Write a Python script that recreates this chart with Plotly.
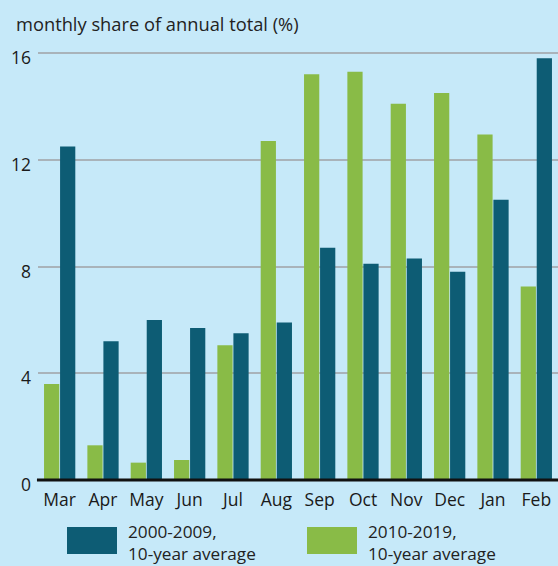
import plotly.graph_objects as go

months = ["Mar", "Apr", "May", "Jun", "Jul", "Aug", "Sep", "Oct", "Nov", "Dec", "Jan", "Feb"]
avg_2000_2009 = [12.5, 5.2, 6.0, 5.7, 5.5, 5.9, 8.7, 8.1, 8.3, 7.8, 10.5, 15.8]
avg_2010_2019 = [3.6, 1.3, 0.65, 0.75, 5.05, 12.7, 15.2, 15.3, 14.1, 14.5, 12.95, 7.25]
y_ticks = [0, 4, 8, 12, 16]
legend_names = ["2000-2009,<br>10-year average", "2010-2019,<br>10-year average"]

BG = "#c6e9f9"
TEAL = "#0d5c74"
GREEN = "#89bb47"
FONT = "Open Sans"

fig = go.Figure()
fig.add_trace(go.Bar(x=months, y=avg_2010_2019, marker=dict(color=GREEN, line=dict(width=0)),
                     name=legend_names[1], showlegend=False))
fig.add_trace(go.Bar(x=months, y=avg_2000_2009, marker=dict(color=TEAL, line=dict(width=0)),
                     name=legend_names[0], showlegend=False))

fig.update_layout(
    width=558, height=566,
    paper_bgcolor=BG, plot_bgcolor=BG,
    margin=dict(l=38, r=0, t=45, b=86),
    barmode="group", bargap=0.26, bargroupgap=0.05,
    font=dict(family=FONT, size=17, color="#1a1a1a"),
    xaxis=dict(range=[-0.5, 11.5], showgrid=False, showline=False, ticks="",
               tickfont=dict(size=17.5), ticklabelstandoff=7, fixedrange=True),
    yaxis=dict(range=[0, 16.3], tickvals=y_ticks, showgrid=True, gridcolor="#a9b3ba",
               gridwidth=1.5, zeroline=False, showline=False, ticks="",
               tickfont=dict(size=17.5), ticklabelstandoff=6, ticklabelshift=5,
               fixedrange=True),
)

# zero baseline
fig.add_shape(type="line", xref="paper", yref="paper", x0=-0.002, x1=1, y0=0, y1=0,
              line=dict(color="#111111", width=2.8), layer="above")

fig.add_annotation(text="monthly share of annual total (%)", xref="paper", yref="paper",
                   x=-0.047, y=1.0, yshift=36, xanchor="left", yanchor="top", showarrow=False,
                   font=dict(size=18.3, color="#222222"))

# custom legend
for i, (name, col) in enumerate(zip(legend_names, [TEAL, GREEN])):
    x0 = 67 + i * 240
    fig.add_shape(type="rect", xref="paper", yref="paper",
                  x0=(x0 - 38) / 520, x1=(x0 + 50 - 38) / 520,
                  y0=-(554 - 480) / 435, y1=-(527 - 480) / 435,
                  fillcolor=col, line=dict(width=0))
    fig.add_annotation(text=name, xref="paper", yref="paper",
                       x=(x0 + 59 - 38) / 520, y=-(542 - 480) / 435,
                       xanchor="left", yanchor="middle", align="left", showarrow=False,
                       font=dict(size=17.2, color="#222222"))

fig.write_html("out.html", config={"displayModeBar": False},
               post_script="document.body.style.margin='0';document.body.style.overflow='hidden';")
